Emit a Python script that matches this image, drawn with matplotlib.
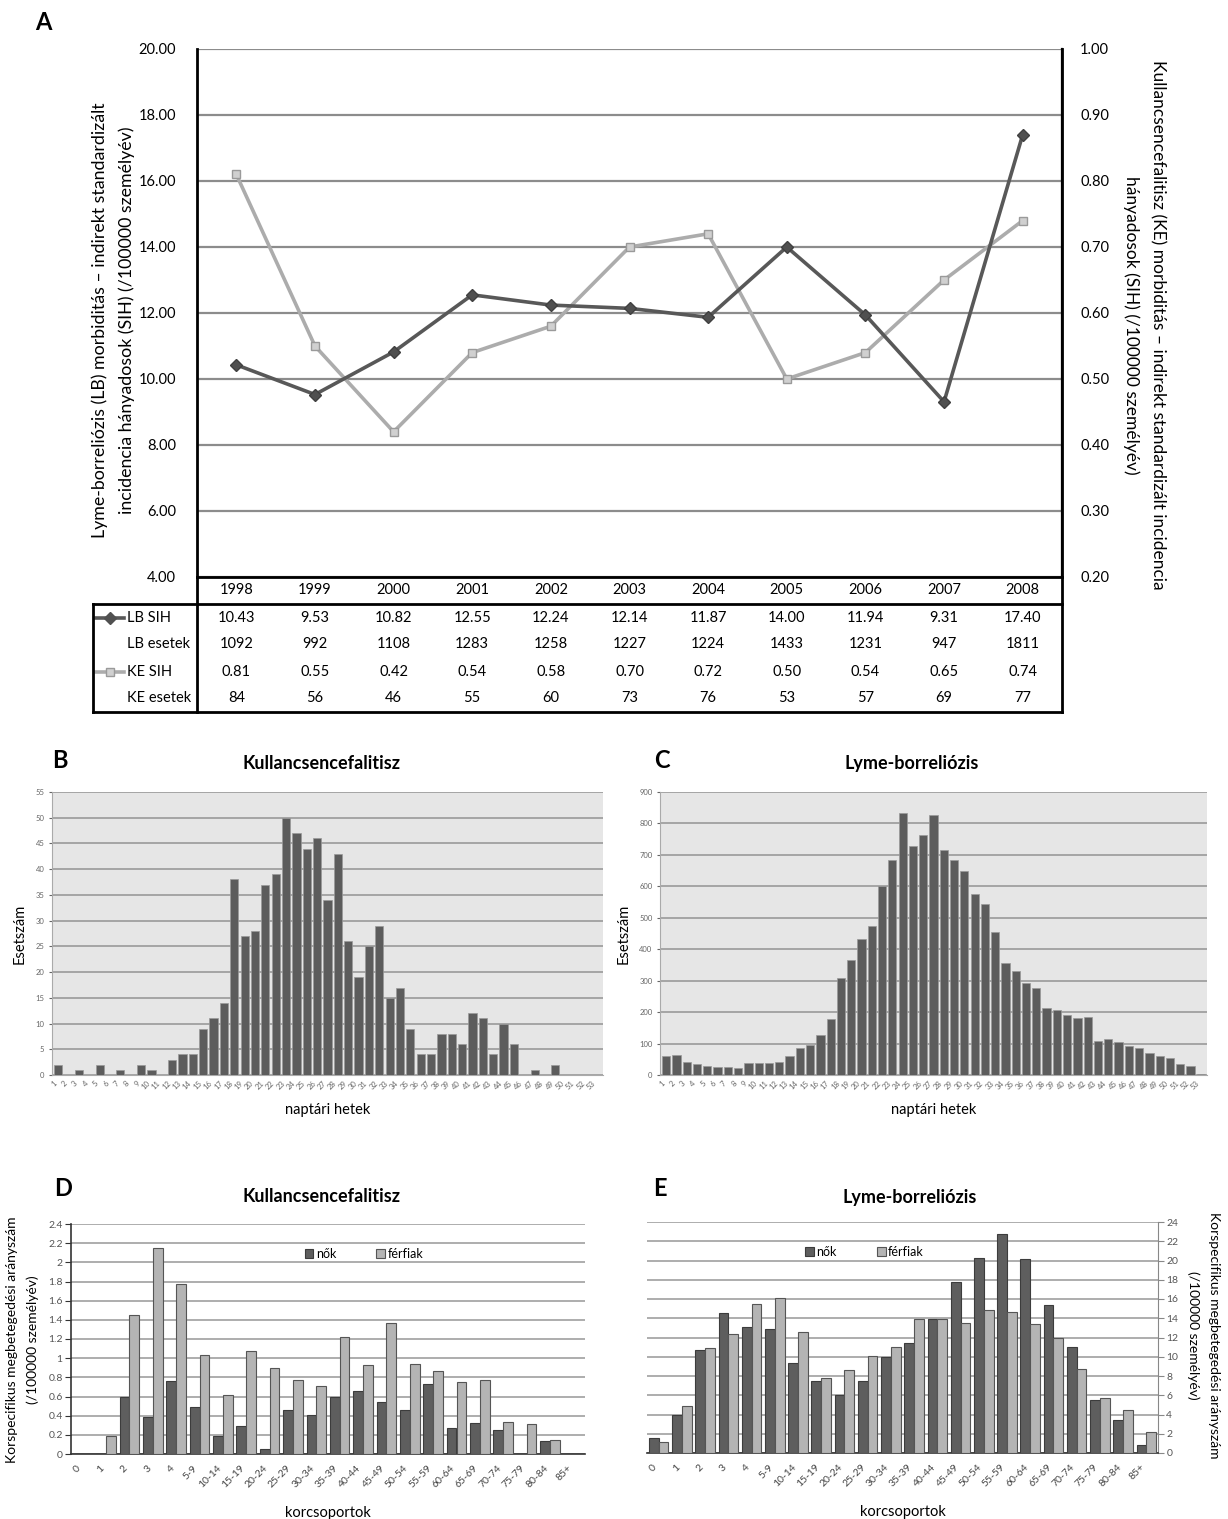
import numpy as np
import matplotlib
matplotlib.use("Agg")
import matplotlib.pyplot as plt
from matplotlib.transforms import blended_transform_factory
from matplotlib.lines import Line2D

plt.rcParams['font.family'] = ['Lato', 'DejaVu Sans']

# ADATOK - A panel
evek = [1998, 1999, 2000, 2001, 2002, 2003, 2004, 2005, 2006, 2007, 2008]
lb_sih = [10.43, 9.53, 10.82, 12.55, 12.24, 12.14, 11.87, 14.00, 11.94, 9.31, 17.40]
lb_esetek = [1092, 992, 1108, 1283, 1258, 1227, 1224, 1433, 1231, 947, 1811]
ke_sih = [0.81, 0.55, 0.42, 0.54, 0.58, 0.70, 0.72, 0.50, 0.54, 0.65, 0.74]
ke_esetek = [84, 56, 46, 55, 60, 73, 76, 53, 57, 69, 77]

# B panel - kullancsencefalitisz heti esetszam
hetek = list(range(1, 54))
ke_heti = [2, 0, 1, 0, 2, 0, 1, 0, 2, 1, 0, 3, 4, 4, 9, 11, 14, 38, 27, 28,
           37, 39, 50, 47, 44, 46, 34, 43, 26, 19, 25, 29, 15, 17, 9, 4, 4, 8, 8, 6,
           12, 11, 4, 10, 6, 0, 1, 0, 2, 0, 0, 0, 0]

# C panel - lyme heti esetszam
lb_heti = [61, 64, 42, 34, 30, 26, 26, 23, 37, 37, 37, 41, 62, 87, 95, 126, 178, 308, 366, 432,
           474, 600, 683, 834, 728, 764, 826, 717, 685, 649, 576, 543, 454, 355, 332, 293, 277, 214, 206, 190,
           182, 183, 109, 116, 105, 91, 87, 69, 59, 53, 35, 30, 3]

# D, E panel - korcsoportok
korcsoportok = ['0', '1', '2', '3', '4', '5-9', '10-14', '15-19', '20-24', '25-29', '30-34',
                '35-39', '40-44', '45-49', '50-54', '55-59', '60-64', '65-69', '70-74',
                '75-79', '80-84', '85+']
ke_nok = [0, 0, 0.59, 0.39, 0.76, 0.49, 0.19, 0.29, 0.05, 0.46, 0.41,
          0.60, 0.66, 0.54, 0.46, 0.73, 0.27, 0.32, 0.25, 0, 0.14, 0]
ke_ferfiak = [0, 0.19, 1.45, 2.15, 1.77, 1.03, 0.62, 1.08, 0.90, 0.77, 0.71,
              1.22, 0.93, 1.37, 0.94, 0.87, 0.75, 0.77, 0.33, 0.31, 0.15, 0]
lb_nok = [1.6, 4.0, 10.7, 14.5, 13.1, 12.9, 9.3, 7.5, 6.0, 7.5, 10.0,
          11.4, 13.9, 17.8, 20.3, 22.8, 20.2, 15.4, 11.0, 5.5, 3.4, 0.8]
lb_ferfiak = [1.1, 4.9, 10.9, 12.4, 15.5, 16.1, 12.6, 7.8, 8.6, 10.1, 11.0,
              13.9, 13.9, 13.5, 14.9, 14.6, 13.4, 11.9, 8.7, 5.7, 4.5, 2.2]

W, H = 1228, 1519
fig = plt.figure(figsize=(W / 100, H / 100), dpi=100)


def box(l, t, r, b):
    return fig.add_axes([l / W, 1 - b / H, (r - l) / W, (b - t) / H])


def fx(x):
    return x / W


def fy(y):
    return 1 - y / H


RACS = '#8c8c8c'

# PANEL A
# KE (jobb tengely) alul, racs is itt
axk = box(197, 49, 1062, 577)
x = np.arange(len(evek))
axk.set_xlim(-0.5, len(evek) - 0.5)
axk.set_ylim(0.2, 1.0)
yk = np.arange(0.2, 1.001, 0.1)
axk.set_yticks(yk)
axk.set_yticklabels([f"{v:.2f}" for v in yk], fontsize=10.5)
axk.yaxis.tick_right()
axk.tick_params(axis='y', length=0, pad=13)
axk.set_xticks([])
axk.grid(axis='y', color=RACS, lw=1.6)
axk.set_axisbelow(True)
for s in ['top', 'left', 'bottom']:
    axk.spines[s].set_visible(False)
axk.spines['right'].set_linewidth(1.6)
axk.plot(x, ke_sih, color='#acacac', lw=2.6, marker='s', markersize=6,
         markerfacecolor='#d0d0d0', markeredgecolor='#9a9a9a', zorder=3)

# LB (bal tengely) felul
ax = fig.add_axes(axk.get_position())
ax.patch.set_visible(False)
ax.set_xlim(-0.5, len(evek) - 0.5)
ax.set_ylim(4, 20)
yl = np.arange(4, 20.1, 2)
ax.set_yticks(yl)
ax.set_yticklabels([f"{v:.2f}" for v in yl], fontsize=10.5)
ax.tick_params(axis='y', length=0, pad=15)
ax.set_xticks([])
ax.spines['top'].set_visible(False)
ax.spines['right'].set_visible(False)
ax.spines['left'].set_linewidth(2)
ax.spines['bottom'].set_linewidth(2)
ax.plot(x, lb_sih, color='#585858', lw=2.6, marker='D', markersize=6,
        markerfacecolor='#505050', markeredgecolor='#404040', zorder=4)

fig.text(fx(100), fy(320), "Lyme-borreliózis (LB) morbiditás – indirekt standardizált",
         rotation=90, ha='center', va='center', fontsize=12.8)
fig.text(fx(127), fy(320), "incidencia hányadosok (SIH) (/100000 személyév)",
         rotation=90, ha='center', va='center', fontsize=12.8)
fig.text(fx(1158), fy(325), "Kullancsencefalitisz (KE) morbiditás – indirekt standardizált incidencia",
         rotation=270, ha='center', va='center', fontsize=12.5)
fig.text(fx(1131), fy(325), "hányadosok (SIH) (/100000 személyév)",
         rotation=270, ha='center', va='center', fontsize=12.5)
fig.text(fx(43), fy(22), "A", fontsize=17, fontweight='bold', ha='center', va='center')

# TABLAZAT
tab = box(197, 577, 1062, 712)
tab.set_xlim(-0.5, len(evek) - 0.5)
tab.set_ylim(5, 0)
tab.axis('off')
sorok = [[str(e) for e in evek],
         [f"{v:.2f}" for v in lb_sih],
         [str(v) for v in lb_esetek],
         [f"{v:.2f}" for v in ke_sih],
         [str(v) for v in ke_esetek]]
for r, sor in enumerate(sorok):
    for i, t in enumerate(sor):
        tab.text(i, r + 0.5, t, ha='center', va='center', fontsize=10.5)

tr = blended_transform_factory(fig.transFigure, tab.transData)
cimkek = ["LB SIH", "LB esetek", "KE SIH", "KE esetek"]
for r, c in enumerate(cimkek):
    tab.text(fx(127), r + 1.5, c, transform=tr, ha='left', va='center', fontsize=10.5)
tab.add_line(Line2D([fx(96), fx(124)], [1.5, 1.5], transform=tr, color='#585858', lw=2.6,
                    clip_on=False))
tab.plot([fx(110)], [1.5], transform=tr, marker='D', color='#505050', markersize=6, clip_on=False)
tab.add_line(Line2D([fx(96), fx(124)], [3.5, 3.5], transform=tr, color='#acacac', lw=2.6,
                    clip_on=False))
tab.plot([fx(110)], [3.5], transform=tr, marker='s', markerfacecolor='#d0d0d0',
         markeredgecolor='#9a9a9a', markersize=6, clip_on=False)

# tablazat keret
kw = dict(color='black', lw=2, transform=fig.transFigure, clip_on=False)
fig.add_artist(Line2D([fx(93), fx(1062)], [fy(604), fy(604)], **kw))
fig.add_artist(Line2D([fx(93), fx(1062)], [fy(712), fy(712)], **kw))
fig.add_artist(Line2D([fx(93), fx(93)], [fy(604), fy(712)], **kw))
fig.add_artist(Line2D([fx(197), fx(197)], [fy(577), fy(712)], **kw))
fig.add_artist(Line2D([fx(1062), fx(1062)], [fy(49), fy(712)], **kw))


# PANEL B, C
def heti_panel(l, t, r, b, ertekek, ymax, ystep, cim, betu, cim_x, betu_x):
    a = box(l, t, r, b)
    a.set_facecolor('#e6e6e6')
    a.bar(hetek, ertekek, width=0.8, color='#5c5c5c', edgecolor='#9a9a9a', lw=0.5, zorder=3)
    a.set_xlim(0.4, 53.6)
    a.set_ylim(0, ymax)
    a.set_yticks(np.arange(0, ymax + 1, ystep))
    a.grid(axis='y', color='#9a9a9a', lw=1.2, zorder=0)
    a.set_axisbelow(True)
    a.set_xticks(hetek)
    a.set_xticklabels([str(h) for h in hetek], rotation=45, ha='right', fontsize=5.5, color='#666666')
    a.tick_params(axis='y', labelsize=5.5, colors='#666666', length=2)
    a.tick_params(axis='x', length=0, pad=3)
    for s in ['top', 'right']:
        a.spines[s].set_visible(False)
    a.spines['left'].set_color('#aaaaaa')
    a.spines['bottom'].set_color('#aaaaaa')
    a.set_ylabel("Esetszám", fontsize=10.5, labelpad=6)
    a.set_xlabel("naptári hetek", fontsize=10.5, labelpad=9)
    fig.text(fx(cim_x), fy(763), cim, fontsize=13, fontweight='bold', ha='center', va='center')
    fig.text(fx(betu_x), fy(760), betu, fontsize=17, fontweight='bold', ha='center', va='center')
    return a


heti_panel(52, 792, 603, 1075, ke_heti, 55, 5, "Kullancsencefalitisz", "B", 322, 60)
heti_panel(660, 792, 1207, 1075, lb_heti, 900, 100, "Lyme-borreliózis", "C", 912, 662)


# PANEL D, E
def kor_panel(l, t, r, b, nok, ferfiak, ymax, ystep, cim, betu, cim_x, betu_x, jobb, leg_x):
    a = box(l, t, r, b)
    k = np.arange(len(korcsoportok))
    a.bar(k - 0.21, nok, width=0.42, color='#5e5e5e', edgecolor='#3c3c3c', lw=0.8,
          label='nők', zorder=3)
    a.bar(k + 0.21, ferfiak, width=0.42, color='#b4b4b4', edgecolor='#555555', lw=0.8,
          label='férfiak', zorder=3)
    a.set_xlim(-0.5, len(korcsoportok) - 0.5)
    a.set_ylim(0, ymax)
    yt = np.arange(0, ymax + 1e-9, ystep)
    a.set_yticks(yt)
    a.set_yticklabels([f"{round(v, 1):g}" for v in yt], fontsize=7.5, color='#555555')
    a.grid(axis='y', color='#a0a0a0', lw=1.2, zorder=0)
    a.set_axisbelow(True)
    a.set_xticks(k)
    a.set_xticklabels(korcsoportok, rotation=45, ha='right', fontsize=7.5, color='#444444')
    a.tick_params(axis='x', length=0, pad=7)
    a.spines['top'].set_visible(False)
    a.spines['bottom'].set_color('#333333')
    a.spines['bottom'].set_linewidth(1.2)
    if jobb:
        a.spines['left'].set_visible(False)
        a.spines['right'].set_color('#888888')
        a.yaxis.tick_right()
        a.tick_params(axis='y', length=4, color='#888888', pad=2)
    else:
        a.spines['right'].set_visible(False)
        a.spines['left'].set_color('#333333')
        a.spines['left'].set_linewidth(1.2)
        a.tick_params(axis='y', length=4, color='#333333', pad=2)
    a.legend(loc='center left', bbox_to_anchor=(leg_x, 0.87), ncol=2, frameon=False,
             fontsize=9, handlelength=0.7, handleheight=0.7, handletextpad=0.2,
             columnspacing=3.2, borderaxespad=0)
    a.set_xlabel("korcsoportok", fontsize=10.5, labelpad=12)
    fig.text(fx(cim_x), fy(1197), cim, fontsize=13, fontweight='bold', ha='center', va='center')
    fig.text(fx(betu_x), fy(1188), betu, fontsize=17, fontweight='bold', ha='center', va='center')
    return a


kor_panel(71, 1224, 585, 1454, ke_nok, ke_ferfiak, 2.4, 0.2,
          "Kullancsencefalitisz", "D", 322, 63, False, 0.445)
kor_panel(647, 1222, 1158, 1453, lb_nok, lb_ferfiak, 24, 2,
          "Lyme-borreliózis", "E", 910, 660, True, 0.30)

fig.text(fx(12), fy(1340), "Korspecifikus megbetegedési arányszám",
         rotation=90, ha='center', va='center', fontsize=10)
fig.text(fx(33), fy(1340), "(/100000 személyév)",
         rotation=90, ha='center', va='center', fontsize=10)
fig.text(fx(1214), fy(1335), "Korspecifikus megbetegedési arányszám",
         rotation=270, ha='center', va='center', fontsize=10)
fig.text(fx(1193), fy(1335), "(/100000 személyév)",
         rotation=270, ha='center', va='center', fontsize=10)

fig.savefig("out.png", dpi=100)
